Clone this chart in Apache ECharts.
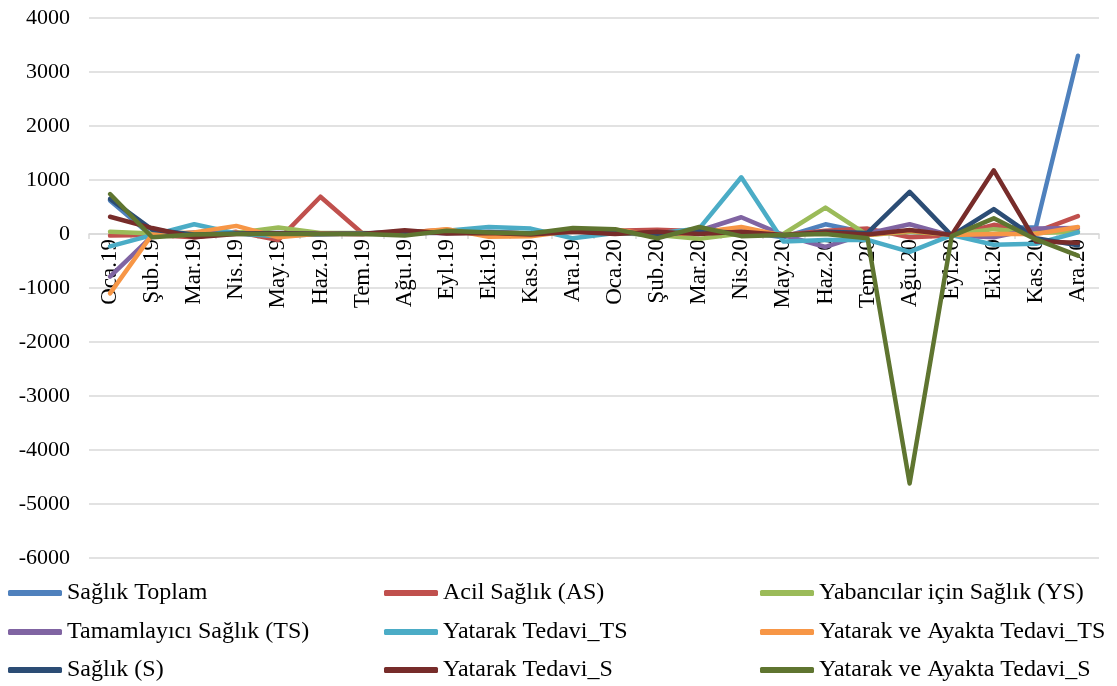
<!DOCTYPE html>
<html>
<head>
<meta charset="utf-8">
<script src="https://cdn.jsdelivr.net/npm/echarts@6/dist/echarts.min.js"></script>
<style>html,body{margin:0;padding:0;background:#fff}#c{width:1117px;height:686px}</style>
</head>
<body>
<div id="c"></div>
<script>
const categories = ['Oca.19','Şub.19','Mar.19','Nis.19','May.19','Haz.19','Tem.19','Ağu.19','Eyl.19','Eki.19','Kas.19','Ara.19','Oca.20','Şub.20','Mar.20','Nis.20','May.20','Haz.20','Tem.20','Ağu.20','Eyl.20','Eki.20','Kas.20','Ara.20'];
const yTicks = [-6000, -5000, -4000, -3000, -2000, -1000, 0, 1000, 2000, 3000, 4000];
const saglikToplam    = [620, -40, 10, 20, -30, 0, 10, 20, 40, 30, 10, 60, 50, -40, 60, 40, -60, 180, 20, 40, -30, 120, 120, 3300];
const acilSaglik      = [-30, -20, -60, 40, -110, 690, 10, 30, 80, 10, 0, 40, 60, 80, 50, 20, -20, 60, 100, -60, -30, 170, 40, 330];
const yabancilar      = [40, 10, 20, 20, 120, 20, 20, 0, 50, 30, 20, 70, 20, -20, -90, 10, 0, 490, -20, 40, -10, 90, 20, 40];
const tamamlayici     = [-790, -40, 30, 10, -20, 10, 0, 20, 20, 40, 10, 50, 40, -20, 60, 310, -20, -240, 10, 180, -30, -60, 100, 110];
const yatarakTS       = [-230, -20, 180, 10, -40, 0, 10, 10, 60, 130, 100, -80, 20, 10, 100, 1050, -140, -110, -110, -330, -20, -200, -180, 30];
const yatarakAyaktaTS = [-1100, -10, 30, 150, -60, 10, 0, 20, 90, -50, -40, 60, 80, -20, 30, 130, -30, 30, -20, 60, -20, 0, 0, 130];
const saglikS         = [650, 80, -10, 10, 20, 0, 10, 40, 20, 30, 10, 70, 60, -30, 60, 20, -30, 40, 20, 780, -30, 460, -80, -210];
const yatarakS        = [320, 110, -60, 0, 10, 0, 0, 70, 10, 20, -10, 40, 0, 40, 0, 40, -20, 30, -10, 75, -20, 1180, -140, -160];
const yatarakAyaktaS  = [740, -60, -10, 0, 0, 0, 0, -30, 60, 30, 10, 110, 90, -80, 130, -40, -20, 0, -80, -4620, -40, 290, -100, -400];

const seriesDefs = [
  ['Sağlık Toplam', saglikToplam, '#4F81BD'],
  ['Acil Sağlık (AS)', acilSaglik, '#C0504D'],
  ['Yabancılar için Sağlık (YS)', yabancilar, '#9BBB59'],
  ['Tamamlayıcı Sağlık (TS)', tamamlayici, '#8064A2'],
  ['Yatarak Tedavi_TS', yatarakTS, '#4BACC6'],
  ['Yatarak ve Ayakta Tedavi_TS', yatarakAyaktaTS, '#F79646'],
  ['Sağlık (S)', saglikS, '#2C4D75'],
  ['Yatarak Tedavi_S', yatarakS, '#772C2A'],
  ['Yatarak ve Ayakta Tedavi_S', yatarakAyaktaS, '#5F7530']
];
const font = "'Liberation Serif', 'Times New Roman', serif";
const names = seriesDefs.map(d => d[0]);
const colLefts = [8, 384, 760], rowTops = [581, 620, 658];
const legends = [];
names.forEach((n, i) => {
  legends.push({
    left: colLefts[i % 3], top: rowTops[Math.floor(i / 3)], padding: 0,
    itemWidth: 54, itemHeight: 6, icon: 'roundRect', selectedMode: false,
    textStyle: { fontFamily: font, fontSize: 24, lineHeight: 24, color: '#000' },
    data: [n]
  });
});
const yMin = yTicks[0], yMax = yTicks[yTicks.length - 1];
const gridTop = 18, gridBottom = 128, chartH = 686;
const plotH = chartH - gridTop - gridBottom;
const zeroOffset = -plotH * (0 - yMin) / (yMax - yMin);
const chart = echarts.init(document.getElementById('c'), null, { renderer: 'canvas' });
chart.setOption({
  animation: false,
  backgroundColor: '#fff',
  grid: { left: 89, right: 18, top: gridTop, bottom: gridBottom },
  legend: legends,
  xAxis: {
    type: 'category', data: categories, boundaryGap: true,
    position: 'bottom', offset: zeroOffset,
    axisLine: { onZero: false, lineStyle: { color: '#d9d9d9', width: 1.5 } },
    axisTick: { show: true, length: 5, lineStyle: { color: '#d9d9d9', width: 1.5 } },
    axisLabel: { rotate: 90, interval: 0, margin: 5, fontFamily: font, fontSize: 23, color: '#000' }
  },
  yAxis: {
    type: 'value', min: yMin, max: yMax, interval: 1000,
    axisLine: { show: false }, axisTick: { show: false },
    splitLine: { lineStyle: { color: '#d9d9d9', width: 1.5 } },
    axisLabel: { margin: 19, fontFamily: font, fontSize: 22, color: '#000', formatter: v => String(v) }
  },
  series: seriesDefs.map(d => ({
    name: d[0], type: 'line', data: d[1], symbol: 'none',
    lineStyle: { color: d[2], width: 4.5, cap: 'round', join: 'round' },
    itemStyle: { color: d[2] }
  }))
});
</script>
</body>
</html>
